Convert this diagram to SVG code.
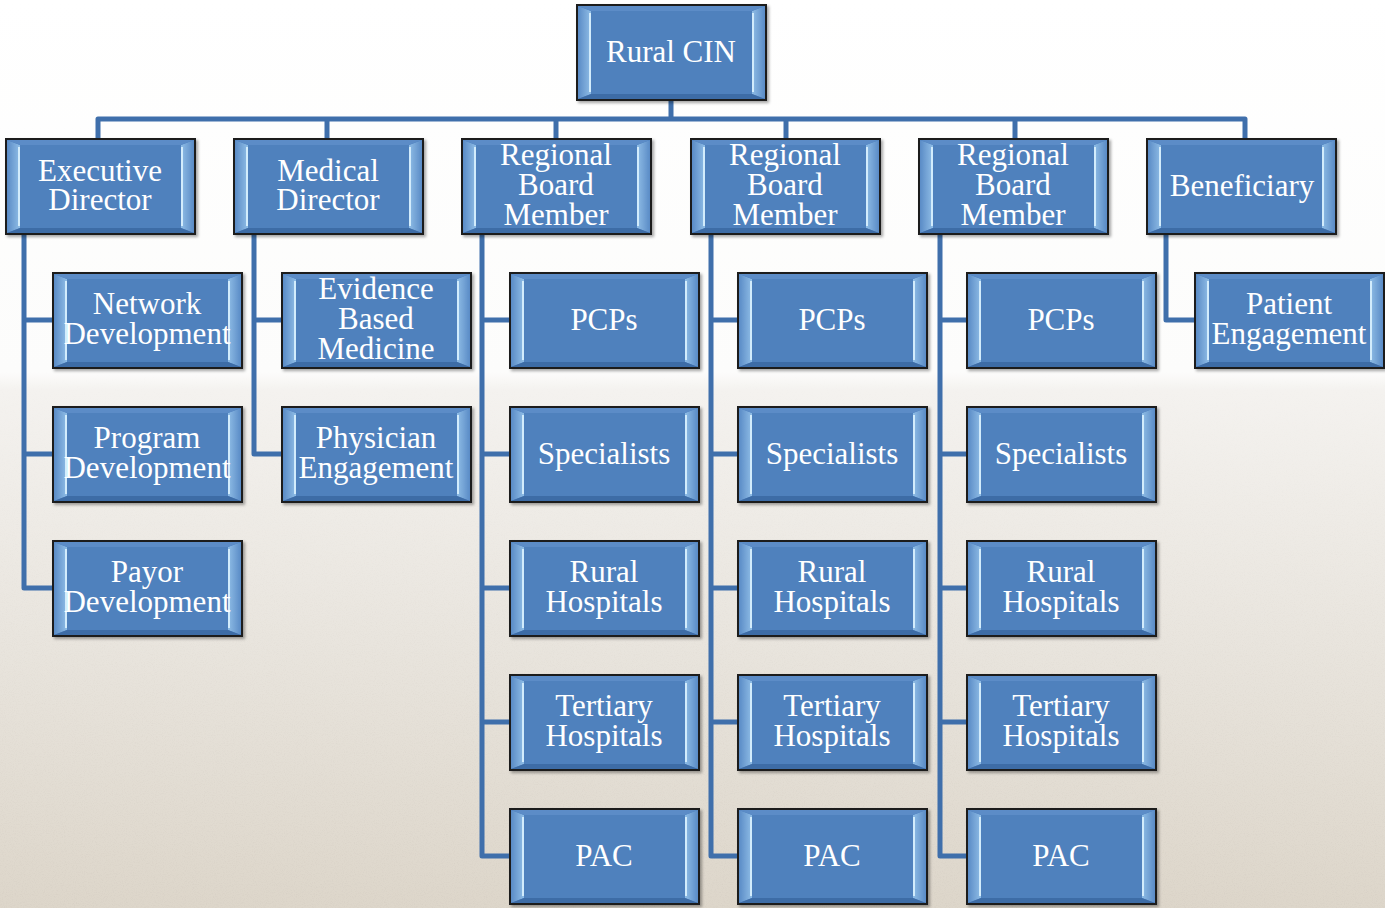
<svg xmlns="http://www.w3.org/2000/svg" xmlns:xlink="http://www.w3.org/1999/xlink" width="1385" height="908" viewBox="0 0 1385 908">
<defs>
<style>
.t{font-family:"Liberation Serif","Times New Roman",serif;font-size:31px;fill:#ffffff;text-anchor:middle;}
.c{fill:none;stroke:#3f6fab;stroke-width:5;stroke-linejoin:round;stroke-linecap:butt;}
</style>
<linearGradient id="bg" x1="0" y1="0" x2="0" y2="1">
<stop offset="0" stop-color="#ffffff"/>
<stop offset="0.41" stop-color="#fcfcfb"/>
<stop offset="0.43" stop-color="#f4f2ef"/>
<stop offset="0.7" stop-color="#e9e5de"/>
<stop offset="1" stop-color="#ddd6ca"/>
</linearGradient>
<linearGradient id="side" x1="0" y1="0" x2="1" y2="0">
<stop offset="0" stop-color="#5a8bc6"/>
<stop offset="1" stop-color="#8fbde6"/>
</linearGradient>
<linearGradient id="sideR" x1="1" y1="0" x2="0" y2="0">
<stop offset="0" stop-color="#5a8bc6"/>
<stop offset="1" stop-color="#8fbde6"/>
</linearGradient>
<filter id="sh" x="-5%" y="-5%" width="112%" height="115%">
<feDropShadow dx="2" dy="2" stdDeviation="1.5" flood-color="#000" flood-opacity="0.35"/>
</filter>
<filter id="noise">
<feTurbulence type="fractalNoise" baseFrequency="0.9" numOctaves="2" seed="3"/>
<feColorMatrix type="matrix" values="0 0 0 0 0.55  0 0 0 0 0.5  0 0 0 0 0.45  0 0 0 -1.4 0.75"/>
</filter>
<linearGradient id="fade" x1="0" y1="0" x2="0" y2="1">
<stop offset="0.4" stop-color="#fff" stop-opacity="0"/>
<stop offset="1" stop-color="#fff" stop-opacity="1"/>
</linearGradient>
<mask id="m"><rect width="1385" height="908" fill="url(#fade)"/></mask>
<symbol id="bx" viewBox="0 0 191 97" overflow="visible">
<g filter="url(#sh)">
<rect x="1" y="1" width="189" height="95" fill="#4a7dbb" stroke="#1a1a1a" stroke-width="2"/>
<rect x="15" y="7" width="161" height="83" fill="#4f81bd"/>
<polygon points="2,2 15,7 15,90 2,95" fill="url(#side)"/>
<polygon points="189,2 176,7 176,90 189,95" fill="url(#sideR)"/>
<polygon points="2,2 189,2 176,7 15,7" fill="#5b8cc7"/>
<polygon points="2,95 15,90 176,90 189,95" fill="#3e6ca6"/>
<line x1="14" y1="9" x2="14" y2="88" stroke="#d2ecfc" stroke-width="2"/>
<line x1="177" y1="9" x2="177" y2="88" stroke="#d2ecfc" stroke-width="2"/>
</g>
</symbol>
</defs>
<rect width="1385" height="908" fill="url(#bg)"/>
<rect width="1385" height="908" filter="url(#noise)" mask="url(#m)" opacity="0.35"/>

<g id="connectors">
<path class="c" d="M671,101 V119"/>
<path class="c" d="M98,138 V119 H1245 V138"/>
<path class="c" d="M327,119 V138 M556,119 V138 M786,119 V138 M1015,119 V138"/>
<path class="c" d="M24,235 V588 H52 M24,320 H52 M24,454 H52"/>
<path class="c" d="M254,235 V454 H281 M254,320 H281"/>
<path class="c" d="M482,235 V856 H509 M482,320 H509 M482,454 H509 M482,588 H509 M482,722 H509"/>
<path class="c" d="M711,235 V856 H737 M711,320 H737 M711,454 H737 M711,588 H737 M711,722 H737"/>
<path class="c" d="M940,235 V856 H966 M940,320 H966 M940,454 H966 M940,588 H966 M940,722 H966"/>
<path class="c" d="M1166,235 V320 H1194"/>
</g>

<g id="rural-cin"><use xlink:href="#bx" x="576" y="4" width="191" height="97"/><text class="t" x="671" y="62">Rural CIN</text></g>

<g id="executive-director"><use xlink:href="#bx" x="5" y="138" width="191" height="97"/><text class="t" x="100" y="181">Executive</text><text class="t" x="100" y="210">Director</text></g>
<g id="medical-director"><use xlink:href="#bx" x="233" y="138" width="191" height="97"/><text class="t" x="328" y="181">Medical</text><text class="t" x="328" y="210">Director</text></g>
<g id="rbm-1"><use xlink:href="#bx" x="461" y="138" width="191" height="97"/><text class="t" x="556" y="165">Regional</text><text class="t" x="556" y="195">Board</text><text class="t" x="556" y="225">Member</text></g>
<g id="rbm-2"><use xlink:href="#bx" x="690" y="138" width="191" height="97"/><text class="t" x="785" y="165">Regional</text><text class="t" x="785" y="195">Board</text><text class="t" x="785" y="225">Member</text></g>
<g id="rbm-3"><use xlink:href="#bx" x="918" y="138" width="191" height="97"/><text class="t" x="1013" y="165">Regional</text><text class="t" x="1013" y="195">Board</text><text class="t" x="1013" y="225">Member</text></g>
<g id="beneficiary"><use xlink:href="#bx" x="1146" y="138" width="191" height="97"/><text class="t" x="1242" y="196">Beneficiary</text></g>

<g id="network-development"><use xlink:href="#bx" x="52" y="272" width="191" height="97"/><text class="t" x="147" y="314">Network</text><text class="t" x="147" y="344">Development</text></g>
<g id="program-development"><use xlink:href="#bx" x="52" y="406" width="191" height="97"/><text class="t" x="147" y="448">Program</text><text class="t" x="147" y="478">Development</text></g>
<g id="payor-development"><use xlink:href="#bx" x="52" y="540" width="191" height="97"/><text class="t" x="147" y="582">Payor</text><text class="t" x="147" y="612">Development</text></g>

<g id="evidence-based-medicine"><use xlink:href="#bx" x="281" y="272" width="191" height="97"/><text class="t" x="376" y="299">Evidence</text><text class="t" x="376" y="329">Based</text><text class="t" x="376" y="359">Medicine</text></g>
<g id="physician-engagement"><use xlink:href="#bx" x="281" y="406" width="191" height="97"/><text class="t" x="376" y="448">Physician</text><text class="t" x="376" y="478">Engagement</text></g>

<g id="pcps-1"><use xlink:href="#bx" x="509" y="272" width="191" height="97"/><text class="t" x="604" y="330">PCPs</text></g>
<g id="specialists-1"><use xlink:href="#bx" x="509" y="406" width="191" height="97"/><text class="t" x="604" y="464">Specialists</text></g>
<g id="rural-hospitals-1"><use xlink:href="#bx" x="509" y="540" width="191" height="97"/><text class="t" x="604" y="582">Rural</text><text class="t" x="604" y="612">Hospitals</text></g>
<g id="tertiary-hospitals-1"><use xlink:href="#bx" x="509" y="674" width="191" height="97"/><text class="t" x="604" y="716">Tertiary</text><text class="t" x="604" y="746">Hospitals</text></g>
<g id="pac-1"><use xlink:href="#bx" x="509" y="808" width="191" height="97"/><text class="t" x="604" y="866">PAC</text></g>

<g id="pcps-2"><use xlink:href="#bx" x="737" y="272" width="191" height="97"/><text class="t" x="832" y="330">PCPs</text></g>
<g id="specialists-2"><use xlink:href="#bx" x="737" y="406" width="191" height="97"/><text class="t" x="832" y="464">Specialists</text></g>
<g id="rural-hospitals-2"><use xlink:href="#bx" x="737" y="540" width="191" height="97"/><text class="t" x="832" y="582">Rural</text><text class="t" x="832" y="612">Hospitals</text></g>
<g id="tertiary-hospitals-2"><use xlink:href="#bx" x="737" y="674" width="191" height="97"/><text class="t" x="832" y="716">Tertiary</text><text class="t" x="832" y="746">Hospitals</text></g>
<g id="pac-2"><use xlink:href="#bx" x="737" y="808" width="191" height="97"/><text class="t" x="832" y="866">PAC</text></g>

<g id="pcps-3"><use xlink:href="#bx" x="966" y="272" width="191" height="97"/><text class="t" x="1061" y="330">PCPs</text></g>
<g id="specialists-3"><use xlink:href="#bx" x="966" y="406" width="191" height="97"/><text class="t" x="1061" y="464">Specialists</text></g>
<g id="rural-hospitals-3"><use xlink:href="#bx" x="966" y="540" width="191" height="97"/><text class="t" x="1061" y="582">Rural</text><text class="t" x="1061" y="612">Hospitals</text></g>
<g id="tertiary-hospitals-3"><use xlink:href="#bx" x="966" y="674" width="191" height="97"/><text class="t" x="1061" y="716">Tertiary</text><text class="t" x="1061" y="746">Hospitals</text></g>
<g id="pac-3"><use xlink:href="#bx" x="966" y="808" width="191" height="97"/><text class="t" x="1061" y="866">PAC</text></g>

<g id="patient-engagement"><use xlink:href="#bx" x="1194" y="272" width="191" height="97"/><text class="t" x="1289" y="314">Patient</text><text class="t" x="1289" y="344">Engagement</text></g>
</svg>
